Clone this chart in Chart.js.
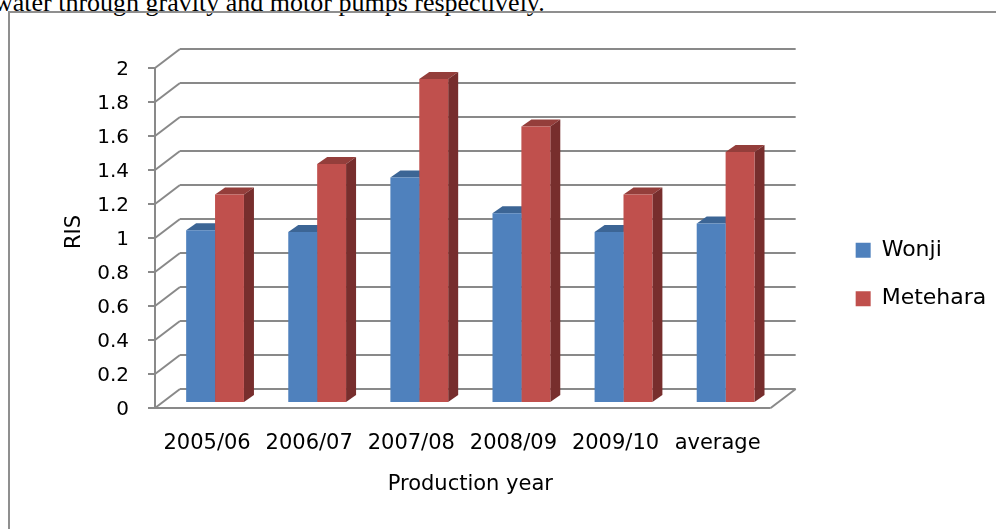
<!DOCTYPE html>
<html><head><meta charset="utf-8">
<script src="https://cdn.jsdelivr.net/npm/chart.js@4.4.0/dist/chart.umd.min.js"></script>
<style>
html,body{margin:0;padding:0;background:#fff;overflow:hidden;}
#wrap{position:relative;width:996px;height:529px;overflow:hidden;background:#fff;}
#caption{position:absolute;left:-6px;top:-10.5px;font-family:'Liberation Serif';font-size:26px;line-height:1;white-space:nowrap;color:#000;}
#frame{position:absolute;left:8px;top:11px;width:1200px;height:800px;border:2px solid #8f8f8f;box-sizing:border-box;}
#box{position:absolute;left:0;top:0;width:996px;height:529px;}
</style></head>
<body><div id="wrap"><div id="caption">water through gravity and motor pumps respectively.</div><div id="frame"></div><div id="box"><canvas id="c"></canvas></div></div>
<script>
const categories = ['2005/06', '2006/07', '2007/08', '2008/09', '2009/10', 'average'];
const wonji = [1.01, 1.00, 1.32, 1.11, 1.00, 1.05];
const metehara = [1.22, 1.40, 1.90, 1.62, 1.22, 1.47];
const seriesNames = ['Wonji', 'Metehara'];
const yTickLabels = ['0', '0.2', '0.4', '0.6', '0.8', '1', '1.2', '1.4', '1.6', '1.8', '2'];
const xTitle = 'Production year';
const yTitle = 'RIS';

const FONT = "'DejaVu Sans', sans-serif";
Chart.defaults.color = '#000';
Chart.defaults.font.family = FONT;

const FRONT_DX = -9, FRONT_DY = 6, FRONT_RIGHT = -6;
const WALL_DX = 25, WALL_DY = -19;
const BAR_DX = 10, BAR_DY = -7;

const frame3d = {
  id: 'frame3d',
  beforeDatasetsDraw(chart) {
    const ctx = chart.ctx, ca = chart.chartArea, ys = chart.scales.y;
    const fx = ca.left + FRONT_DX, fr = ca.right + FRONT_RIGHT;
    const line = (x1, y1, x2, y2) => { ctx.beginPath(); ctx.moveTo(x1, y1); ctx.lineTo(x2, y2); ctx.stroke(); };
    const poly = (pts) => { ctx.beginPath(); pts.forEach((p, i) => i ? ctx.lineTo(p[0], p[1]) : ctx.moveTo(p[0], p[1])); ctx.closePath(); ctx.fill(); };
    ctx.save();
    ctx.strokeStyle = '#898989';
    ctx.lineWidth = 2;
    ys.ticks.forEach(t => {
      const py = Math.round(ys.getPixelForValue(t.value)) + FRONT_DY;
      line(fx + WALL_DX, py + WALL_DY, fr + WALL_DX, py + WALL_DY);
      line(fx, py, fx + WALL_DX, py + WALL_DY);
      line(fx - 7, py, fx, py);
    });
    const y0 = Math.round(ys.getPixelForValue(0)) + FRONT_DY;
    const yTop = Math.round(ys.getPixelForValue(ys.max)) + FRONT_DY;
    line(fx, y0 + 1, fx, yTop - 1);
    line(fx, y0, fr, y0);
    line(fr, y0, fr + WALL_DX, y0 + WALL_DY);
    chart.data.datasets.forEach((ds, di) => {
      const meta = chart.getDatasetMeta(di);
      meta.data.forEach(bar => {
        const p = bar.getProps(['x', 'y', 'base', 'width'], true);
        const l = p.x - p.width / 2, r = p.x + p.width / 2, top = p.y, base = p.base;
        ctx.fillStyle = ds.topColor;
        poly([[l, top], [r, top], [r + BAR_DX, top + BAR_DY], [l + BAR_DX, top + BAR_DY]]);
        ctx.fillStyle = ds.sideColor;
        poly([[r, top], [r + BAR_DX, top + BAR_DY], [r + BAR_DX, base + BAR_DY], [r, base]]);
      });
    });
    ctx.restore();
  }
};

new Chart(document.getElementById('c'), {
  type: 'bar',
  data: {
    labels: categories,
    datasets: [
      { label: seriesNames[0], data: wonji, backgroundColor: '#4F81BD', borderWidth: 0, topColor: '#3c6595', sideColor: '#34598a' },
      { label: seriesNames[1], data: metehara, backgroundColor: '#C0504D', borderWidth: 0, topColor: '#943e3b', sideColor: '#772e2d' }
    ]
  },
  options: {
    responsive: true,
    maintainAspectRatio: false,
    animation: false,
    devicePixelRatio: 1,
    layout: { padding: { left: 40, top: 62, right: 9, bottom: 42 } },
    datasets: { bar: { categoryPercentage: 0.566, barPercentage: 1.0 } },
    scales: {
      x: {
        grid: { display: false, drawTicks: false },
        border: { display: false },
        ticks: { font: { size: 21 }, padding: 29, labelOffset: -8, maxRotation: 0, autoSkip: false },
        title: { display: true, text: xTitle, font: { size: 21, lineHeight: 0.2 }, padding: { top: 0, bottom: 0 } },
        afterFit: (s) => { s.height = 85; }
      },
      y: {
        min: 0, max: 2,
        grid: { display: false, drawTicks: false },
        border: { display: false },
        ticks: { stepSize: 0.2, font: { size: 20 }, padding: 35, labelOffset: 8, callback: (v, i) => yTickLabels[i] },
        title: { display: true, text: yTitle, font: { size: 21 }, padding: { top: 21.5, bottom: 0 } },
        afterFit: (s) => { s.width = 124; }
      },
      y2: {
        position: 'right',
        display: true,
        grid: { display: false, drawTicks: false },
        border: { display: false },
        ticks: { display: false },
        afterFit: (s) => { s.width = 52.5; }
      }
    },
    plugins: {
      legend: {
        position: 'right',
        align: 'center',
        labels: { font: { size: 22 }, boxWidth: 15, boxHeight: 15, padding: 26.5, color: '#000' }
      },
      tooltip: { enabled: false }
    }
  },
  plugins: [frame3d]
});
</script></body></html>
